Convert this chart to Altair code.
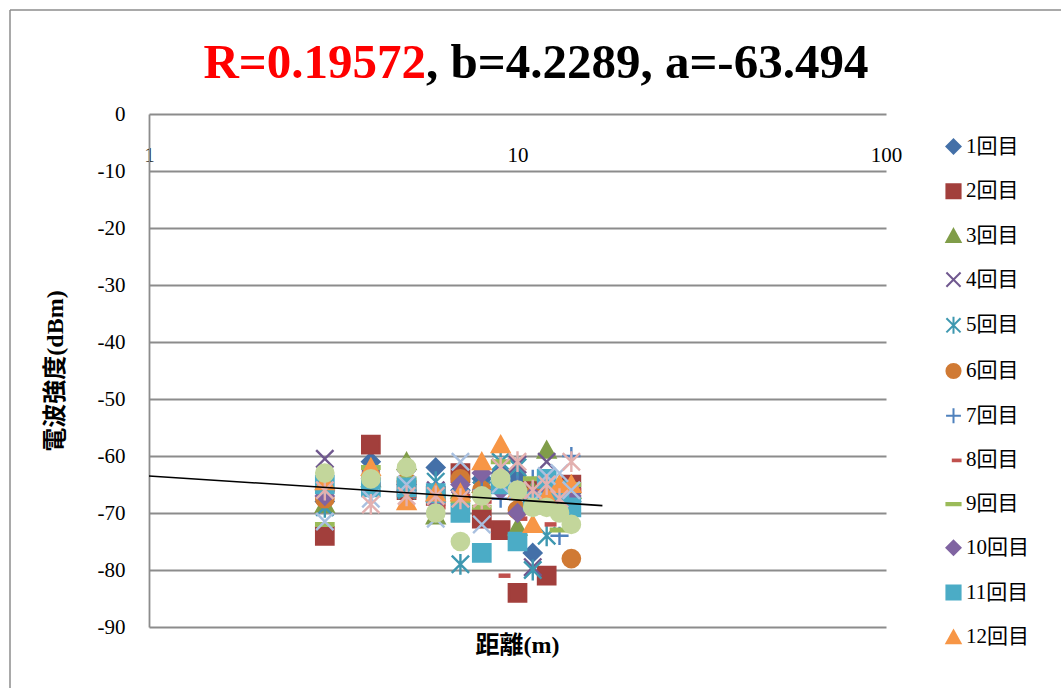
import altair as alt
import pandas as pd

# distances (m) measured
distances = [3, 4, 5, 6, 7, 8, 9, 10, 11, 12, 13, 14]
series_names = [f"{i}回目" for i in range(1, 16)]

s01 = [-68, -61, -65, -62, -66, -64, -63, -64, -77, -66, -66, -68]
s02 = [-74, -58, -66, -67, -63, -71, -73, -84, -66, -81, -67, -65]
s03 = [-68.5, -64, -61, -70.5, -66, -65, -64, -72.5, -66, -59, -68, -66]
s04 = [-60.5, -64, -64, -66, -65, -66, -62, -61.5, -79.5, -61, -66, -67]
s05 = [-69, -65, -66, -64.5, -79, -66, -61, -62, -80, -74, -67, -68]
s06 = [-67.5, -64, -64.5, -67, -64, -66, -65, -69.5, -67, -67, -66, -78]
s07 = [-66, -63, -65, -66, -66, -66, -67.5, -65, -64, -64, -74, -60]
s08 = [-66, -65, -67, -69, -67, -68, -81, -71, -68, -72, -67, -66]
s09 = [-72, -62, -64, -67, -68, -69, -61, -66, -64, -67, -73, -65]
s10 = [-67, -64, -66, -68, -65, -63, -66, -70, -67, -66.5, -67, -67]
s11 = [-65, -65.5, -65.5, -66.5, -70, -77, -65, -75, -68, -64, -66, -69]
s12 = [-64.5, -62, -68, -66.5, -66.5, -61, -58, -66, -72, -67, -65, -65]
s13 = [-71.5, -67.5, -65, -71, -61, -72, -65, -66, -68, -63.5, -63, -66]
s14 = [-66, -68.5, -67, -67, -67.5, -67.5, -62, -61, -66, -65, -67.5, -61]
s15 = [-63, -64, -62, -70, -75, -67, -64, -66, -69, -69, -70, -72]
all_series = [s01, s02, s03, s04, s05, s06, s07, s08, s09, s10, s11, s12, s13, s14, s15]

# entries visible in the (truncated) legend
legend_names = series_names[:12]

# trend line end points (log-x fit)
trend_x = [1, 17]
trend_y = [-63.5, -68.7]

title_red = "R=0.19572"
title_black = ", b=4.2289, a=-63.494"

colors = ["#4470A8", "#A23F3C", "#809D49", "#70588F", "#3E98B0", "#D07A34",
          "#4F81BD", "#C0504D", "#9BBB59", "#8064A2", "#4BACC6", "#F79646",
          "#A9C0E0", "#E3B0AF", "#C3D69B"]

DIAMOND = "M0,-1L1,0L0,1L-1,0Z"
SQUARE = "M-1,-1L1,-1L1,1L-1,1Z"
TRIANGLE = "M0,-0.95L1,0.85L-1,0.85Z"
XMARK = "M-1,-1L1,1M-1,1L1,-1"
STAR = "M-1,-1L1,1M-1,1L1,-1M0,-1.2L0,1.2"
CIRCLE = "M1,0A1,1,0,1,1,-1,0A1,1,0,1,1,1,0Z"
PLUS = "M-1.05,0L1.05,0M0,-1.05L0,1.05"
SDASH = "M-0.1,-0.12L1,-0.12L1,0.12L-0.1,0.12Z"
LDASH = "M-1,-0.15L1,-0.15L1,0.15L-1,0.15Z"

shapes = [DIAMOND, SQUARE, TRIANGLE, XMARK, STAR, CIRCLE, PLUS, SDASH, LDASH,
          DIAMOND, SQUARE, TRIANGLE, XMARK, STAR, CIRCLE]
stroked = [False, False, False, True, True, False, True, False, False,
           False, False, False, True, True, False]
fills = ["transparent" if s else c for s, c in zip(stroked, colors)]

rows = []
for name, vals in zip(series_names, all_series):
    for d, v in zip(distances, vals):
        rows.append({"series": name, "distance": d, "rssi": v})
df = pd.DataFrame(rows)

trend_df = pd.DataFrame({"distance": trend_x, "rssi": trend_y})

SERIF = "Liberation Serif, Noto Sans CJK JP"
W, H = 737, 513

xscale = alt.Scale(type="log", domain=[1, 100])
yscale = alt.Scale(domain=[-90, 0])

lg = alt.Legend(title=None, orient="none", legendX=794, legendY=22, values=legend_names)

points = alt.Chart(df).mark_point(opacity=1, size=300, strokeWidth=2.4).encode(
    x=alt.X("distance:Q", scale=xscale,
            axis=alt.Axis(title="距離(m)", values=[1, 10, 100], offset=-H,
                          ticks=False, domain=False, grid=False,
                          labelFlush=False, labelPadding=30,
                          labelExpr="datum.value + ''",
                          titleX=368, titleY=531, titleBaseline="middle",
                          titleAlign="center")),
    y=alt.Y("rssi:Q", scale=yscale,
            axis=alt.Axis(title="電波強度(dBm)", values=list(range(-90, 1, 10)),
                          ticks=False, domain=True, grid=True,
                          labelPadding=24, labelExpr="datum.value + ''",
                          titleX=-94, titleY=H / 2, titleAngle=270,
                          titleBaseline="middle", titleAlign="center")),
    shape=alt.Shape("series:N", scale=alt.Scale(domain=series_names, range=shapes), legend=lg),
    fill=alt.Fill("series:N", scale=alt.Scale(domain=series_names, range=fills), legend=lg),
    stroke=alt.Stroke("series:N", scale=alt.Scale(domain=series_names, range=colors), legend=lg),
)

trend = alt.Chart(trend_df).mark_line(color="black", strokeWidth=1.6).encode(
    x=alt.X("distance:Q", scale=xscale),
    y=alt.Y("rssi:Q", scale=yscale),
)

title_df = pd.DataFrame({"red": [title_red], "black": [title_black]})
t_red = alt.Chart(title_df).mark_text(
    font="Liberation Serif", fontSize=49, fontWeight="bold", color="#FF0000",
    align="right", baseline="alphabetic"
).encode(text="red:N", x=alt.value(277), y=alt.value(-36))
t_black = alt.Chart(title_df).mark_text(
    font="Liberation Serif", fontSize=49, fontWeight="bold", color="black",
    align="left", baseline="alphabetic"
).encode(text="black:N", x=alt.value(277), y=alt.value(-36))

border_left = alt.Chart(title_df).mark_rule(color="#8c8c8c", strokeWidth=1.5).encode(
    x=alt.value(-139), y=alt.value(-104), y2=alt.value(574))
border_top = alt.Chart(title_df).mark_rule(color="#8c8c8c", strokeWidth=1.5).encode(
    x=alt.value(-139), x2=alt.value(912), y=alt.value(-104))

chart = alt.layer(points, trend, t_red, t_black, border_left, border_top).properties(
    width=W, height=H,
    autosize=alt.AutoSizeParams(type="none"),
    padding={"left": 149, "top": 114, "right": 175, "bottom": 61},
    background="white",
).configure_view(stroke=None).configure_axis(
    labelFont=SERIF, labelFontSize=21, labelColor="black",
    titleFont=SERIF, titleFontSize=24, titleFontWeight="bold", titleColor="black",
    gridColor="#8c8c8c", gridWidth=1.8, domainColor="#8c8c8c", domainWidth=1.8,
).configure_legend(
    labelFont=SERIF, labelFontSize=21, labelColor="black", labelOffset=2,
    symbolSize=200, symbolStrokeWidth=2, rowPadding=21.7, symbolOpacity=1,
    labelLimit=200,
)

chart.save("out.html", embed_options={"renderer": "svg", "actions": False})
